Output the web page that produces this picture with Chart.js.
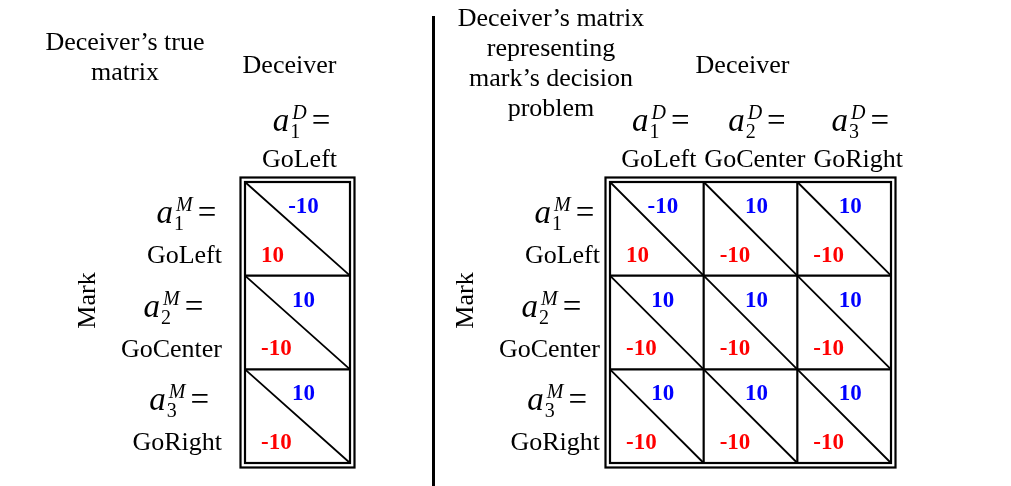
<!DOCTYPE html>
<html>
<head>
<meta charset="utf-8">
<script src="https://cdn.jsdelivr.net/npm/chart.js@4.4.0/dist/chart.umd.min.js"></script>
<style>
  body { margin: 0; background: #fff; }
  .panel { position: absolute; left: 0; top: 0; width: 1011px; height: 486px; }
</style>
</head>
<body>
<div class="panel"><canvas id="trueChart"></canvas></div>
<div class="panel"><canvas id="markChart"></canvas></div>
<script>
// action names, rows = mark's action, cols = deceiver's action
const trueCols = ['GoLeft'];
const trueRows = ['GoLeft', 'GoCenter', 'GoRight'];
const modelCols = ['GoLeft', 'GoCenter', 'GoRight'];
const modelRows = ['GoLeft', 'GoCenter', 'GoRight'];

// payoffs (upper right = deceiver, lower left = mark)
const trueDeceiverPay = [[-10], [10], [10]];
const trueMarkPay = [[10], [-10], [-10]];
const modelDeceiverPay = [[-10, 10, 10], [10, 10, 10], [10, 10, 10]];
const modelMarkPay = [[10, -10, -10], [-10, -10, -10], [-10, -10, -10]];

const trueTitle = ['Deceiver’s true', 'matrix'];
const modelTitle = ['Deceiver’s matrix', 'representing', 'mark’s decision', 'problem'];

const SERIF = '"Liberation Serif", "Times New Roman", serif';
const DIVIDER_X = 433.5;

function toPoints(m) {
  const pts = [];
  m.forEach((row, r) => row.forEach((v, c) => pts.push({ x: c, y: r, v: v })));
  return pts;
}

// a_sub^sup = , centred on cx
function drawAction(ctx, cx, base, sub, sup) {
  ctx.font = 'italic 33px ' + SERIF;
  const wa = ctx.measureText('a').width;
  ctx.font = '20px ' + SERIF;
  const wsub = ctx.measureText(sub).width;
  ctx.font = 'italic 20px ' + SERIF;
  const wsup = ctx.measureText(sup).width;
  ctx.font = '33px ' + SERIF;
  const weq = ctx.measureText('=').width;
  const scriptEnd = Math.max(wa + 1 + wsub, wa + 3 + wsup);
  const total = scriptEnd + 5 + weq;
  const x0 = cx - total / 2;
  ctx.textAlign = 'left';
  ctx.textBaseline = 'alphabetic';
  ctx.font = 'italic 33px ' + SERIF;
  ctx.fillText('a', x0, base);
  ctx.font = '20px ' + SERIF;
  ctx.fillText(sub, x0 + wa + 1, base + 7);
  ctx.font = 'italic 20px ' + SERIF;
  ctx.fillText(sup, x0 + wa + 3, base - 12);
  ctx.font = '33px ' + SERIF;
  ctx.fillText('=', x0 + scriptEnd + 5, base);
}

function makeMatrix(id, cols, rows, decPay, markPay, title, look) {
  const matrixPlugin = {
    id: 'matrix' + id,
    afterDatasetsDraw(chart) {
      const ctx = chart.ctx;
      const x = chart.scales.x, y = chart.scales.y;
      const L = x.getPixelForValue(-0.5), R = x.getPixelForValue(cols.length - 0.5);
      const T = y.getPixelForValue(-0.5), B = y.getPixelForValue(rows.length - 0.5);
      ctx.save();
      ctx.strokeStyle = '#000';
      ctx.fillStyle = '#000';

      // double border
      ctx.lineWidth = 2.2;
      ctx.strokeRect(L, T, R - L, B - T);
      ctx.strokeRect(L - 4.5, T - 4.5, R - L + 9, B - T + 9);

      // cell grid
      ctx.beginPath();
      for (let c = 1; c < cols.length; c++) {
        const px = x.getPixelForValue(c - 0.5);
        ctx.moveTo(px, T); ctx.lineTo(px, B);
      }
      for (let r = 1; r < rows.length; r++) {
        const py = y.getPixelForValue(r - 0.5);
        ctx.moveTo(L, py); ctx.lineTo(R, py);
      }
      ctx.stroke();

      // diagonals
      ctx.lineWidth = 1.8;
      ctx.beginPath();
      for (let r = 0; r < rows.length; r++) {
        for (let c = 0; c < cols.length; c++) {
          ctx.moveTo(x.getPixelForValue(c - 0.5), y.getPixelForValue(r - 0.5));
          ctx.lineTo(x.getPixelForValue(c + 0.5), y.getPixelForValue(r + 0.5));
        }
      }
      ctx.stroke();

      // payoffs
      ctx.font = 'bold 23px ' + SERIF;
      ctx.textBaseline = 'alphabetic';
      chart.data.datasets.forEach((ds, di) => {
        chart.getDatasetMeta(di).data.forEach((el, i) => {
          const p = ds.data[i];
          ctx.fillStyle = ds.textColor;
          if (di === 0) {
            ctx.textAlign = 'center';
            ctx.fillText(String(p.v), el.x + 6, y.getPixelForValue(p.y - 0.5) + 31);
          } else {
            ctx.textAlign = 'left';
            ctx.fillText(String(p.v), x.getPixelForValue(p.x - 0.5) + 16, y.getPixelForValue(p.y + 0.5) - 14);
          }
        });
      });
      ctx.fillStyle = '#000';

      // column headers
      let prevEnd = -Infinity;
      cols.forEach((name, c) => {
        ctx.font = '26px ' + SERIF;
        const w = ctx.measureText(name).width;
        let left = x.getPixelForValue(c) + 2 - w / 2;
        if (left < prevEnd + 8) left = prevEnd + 8;
        prevEnd = left + w;
        ctx.textAlign = 'left';
        ctx.fillText(name, left, T - 15);
        drawAction(ctx, left + w / 2 + 2, T - 51, String(c + 1), 'D');
      });

      // row headers
      let minLeft = Infinity;
      rows.forEach((name, r) => {
        ctx.font = '26px ' + SERIF;
        const w = ctx.measureText(name).width;
        const right = L - look.rowGap;
        const cy = y.getPixelForValue(r);
        ctx.textAlign = 'right';
        ctx.fillText(name, right, cy + 34);
        minLeft = Math.min(minLeft, right - w);
        drawAction(ctx, right - w / 2 + 2, cy - 6, String(r + 1), 'M');
      });

      // player names
      ctx.font = '26px ' + SERIF;
      ctx.textAlign = 'center';
      ctx.fillText('Deceiver', (L + R) / 2 - 8, 73);
      ctx.save();
      ctx.translate(minLeft - 33, (T + B) / 2 - 22);
      ctx.rotate(-Math.PI / 2);
      ctx.textBaseline = 'middle';
      ctx.fillText('Mark', 0, 0);
      ctx.restore();

      // title
      ctx.textAlign = 'center';
      ctx.textBaseline = 'alphabetic';
      title.forEach((line, i) => ctx.fillText(line, look.titleX, look.titleY + i * 30));

      if (look.divider) {
        ctx.lineWidth = 3;
        ctx.beginPath();
        ctx.moveTo(DIVIDER_X, 16);
        ctx.lineTo(DIVIDER_X, 486);
        ctx.stroke();
      }
      ctx.restore();
    }
  };

  return new Chart(document.getElementById(id), {
    type: 'scatter',
    data: {
      datasets: [
        { label: 'Deceiver', data: toPoints(decPay), pointRadius: 0, textColor: '#0000ff' },
        { label: 'Mark', data: toPoints(markPay), pointRadius: 0, textColor: '#ff0000' }
      ]
    },
    options: {
      responsive: true,
      maintainAspectRatio: false,
      animation: false,
      layout: { padding: look.pad },
      plugins: { legend: { display: false }, tooltip: { enabled: false } },
      scales: {
        x: { type: 'linear', display: false, min: -0.5, max: cols.length - 0.5 },
        y: { type: 'linear', display: false, min: -0.5, max: rows.length - 0.5, reverse: true }
      }
    },
    plugins: [matrixPlugin]
  });
}

makeMatrix('trueChart', trueCols, trueRows, trueDeceiverPay, trueMarkPay, trueTitle,
  { pad: { left: 245, right: 661, top: 182, bottom: 23 }, rowGap: 23, titleX: 125, titleY: 50, divider: false });
makeMatrix('markChart', modelCols, modelRows, modelDeceiverPay, modelMarkPay, modelTitle,
  { pad: { left: 610, right: 120, top: 182, bottom: 23 }, rowGap: 10, titleX: 551, titleY: 26, divider: true });
</script>
</body>
</html>
